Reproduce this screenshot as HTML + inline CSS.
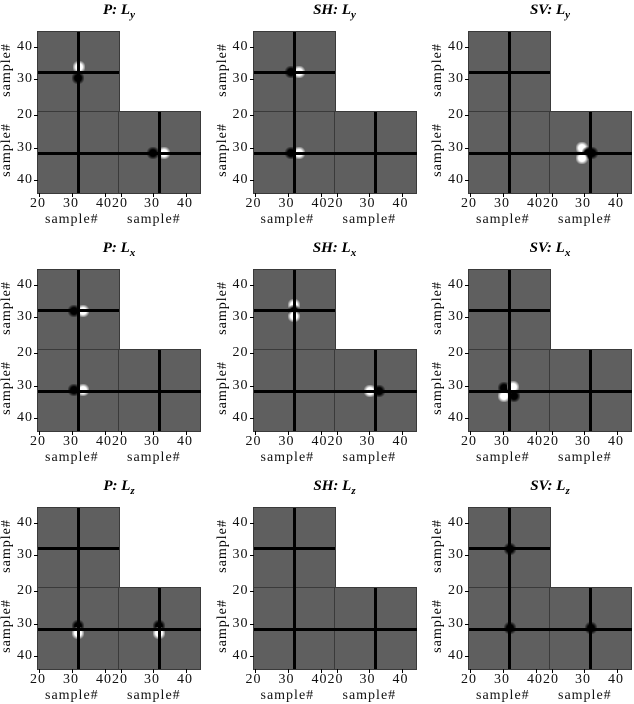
<!DOCTYPE html><html><head><style>
body{margin:0;width:634px;height:702px;background:#fff;position:relative;overflow:hidden;font-family:"Liberation Serif",serif}
.blk{position:absolute;background:#5f5f5f;outline:1px solid #3a3a3a}
.ln{position:absolute;background:#000}
.t{position:absolute;font-size:14px;color:#111;letter-spacing:1px}
.ttl{position:absolute;font-family:"Liberation Serif",serif;font-weight:bold;font-style:italic;font-size:15px;width:100px;text-align:center}
.yl{position:absolute;font-size:14px;letter-spacing:1px;transform:rotate(-90deg);transform-origin:center;width:70px;text-align:center}
.b{position:absolute;width:12px;height:12px;border-radius:30%}
</style></head><body>
<script>
const titles=[["P: ","y"],["SH: ","y"],["SV: ","y"],["P: ","x"],["SH: ","x"],["SV: ","x"],["P: ","z"],["SH: ","z"],["SV: ","z"]];
const blobs=[
 [[41,35,1],[40,46,0],[115,121,0],[126,121,1]],
 [[37,40,0],[45,40,1],[37,121,0],[45,121,1]],
 [[113,116,1],[119,121,0],[113,126,1],[123,121,0]],
 [[36,41,0],[45,41,1],[36,120,0],[45,120,1]],
 [[40,35,1],[40,41,0],[40,46,1],[125,121,0],[116,121,1]],
 [[35,118,0],[44,117,1],[35,126,1],[45,126,0]],
 [[40,118,0],[40,125,1],[121,118,0],[121,125,1]],
 [],
 [[41,41,0],[41,120,0],[122,120,0]]
];
let h='';
for(let r=0;r<3;r++)for(let c=0;c<3;c++){
 const x=38+c*215.5, y=32+r*238, i=r*3+c;
 h+=`<div class="ttl" style="left:${x+31}px;top:${y-30}px">${titles[i][0]}L<sub style="font-size:11px">${titles[i][1]}</sub></div>`;
 h+=`<div class="blk" style="left:${x}px;top:${y}px;width:81px;height:80px"></div>`;
 h+=`<div class="blk" style="left:${x}px;top:${y+80}px;width:81px;height:81px"></div>`;
 h+=`<div class="blk" style="left:${x+81}px;top:${y+80}px;width:81px;height:81px"></div>`;
 for(const b of blobs[i]){
  const col=b[2]?'radial-gradient(circle,#fff 0,#fff 40%,rgba(255,255,255,0) 80%)':'radial-gradient(circle,#000 0,#000 40%,rgba(0,0,0,0) 80%)';
  h+=`<div class="b" style="left:${x+b[0]-6}px;top:${y+b[1]-6}px;background:${col}"></div>`;
 }
 h+=`<div class="ln" style="left:${x+39}px;top:${y}px;width:3px;height:161px"></div>`;
 h+=`<div class="ln" style="left:${x}px;top:${y+39}px;width:81px;height:3px"></div>`;
 h+=`<div class="ln" style="left:${x}px;top:${y+120}px;width:163px;height:3px"></div>`;
 h+=`<div class="ln" style="left:${x+120}px;top:${y+80}px;width:3px;height:81px"></div>`;
 const yt=[[15,'40'],[47,'30'],[83,'20'],[116,'30'],[148,'40']];
 for(const t of yt){h+=`<div class="t" style="left:${x-21}px;top:${y+t[0]-8}px">${t[1]}</div><div class="ln" style="left:${x-4}px;top:${y+t[0]}px;width:4px;height:1px"></div>`;}
 const xt=[[1,'20'],[34,'30'],[67,'40'],[83,'20'],[115,'30'],[148,'40']];
 for(const t of xt){h+=`<div class="t" style="left:${x+t[0]-9}px;top:${y+164}px">${t[1]}</div><div class="ln" style="left:${x+t[0]}px;top:${y+161}px;width:1px;height:4px"></div>`;}
 h+=`<div class="t" style="left:${x+7}px;top:${y+180}px">sample#</div>`;
 h+=`<div class="t" style="left:${x+89}px;top:${y+180}px">sample#</div>`;
 h+=`<div class="yl" style="left:${x-66}px;top:${y+30}px">sample#</div>`;
 h+=`<div class="yl" style="left:${x-66}px;top:${y+110}px">sample#</div>`;
}
document.write(h);
</script>
</body></html>
